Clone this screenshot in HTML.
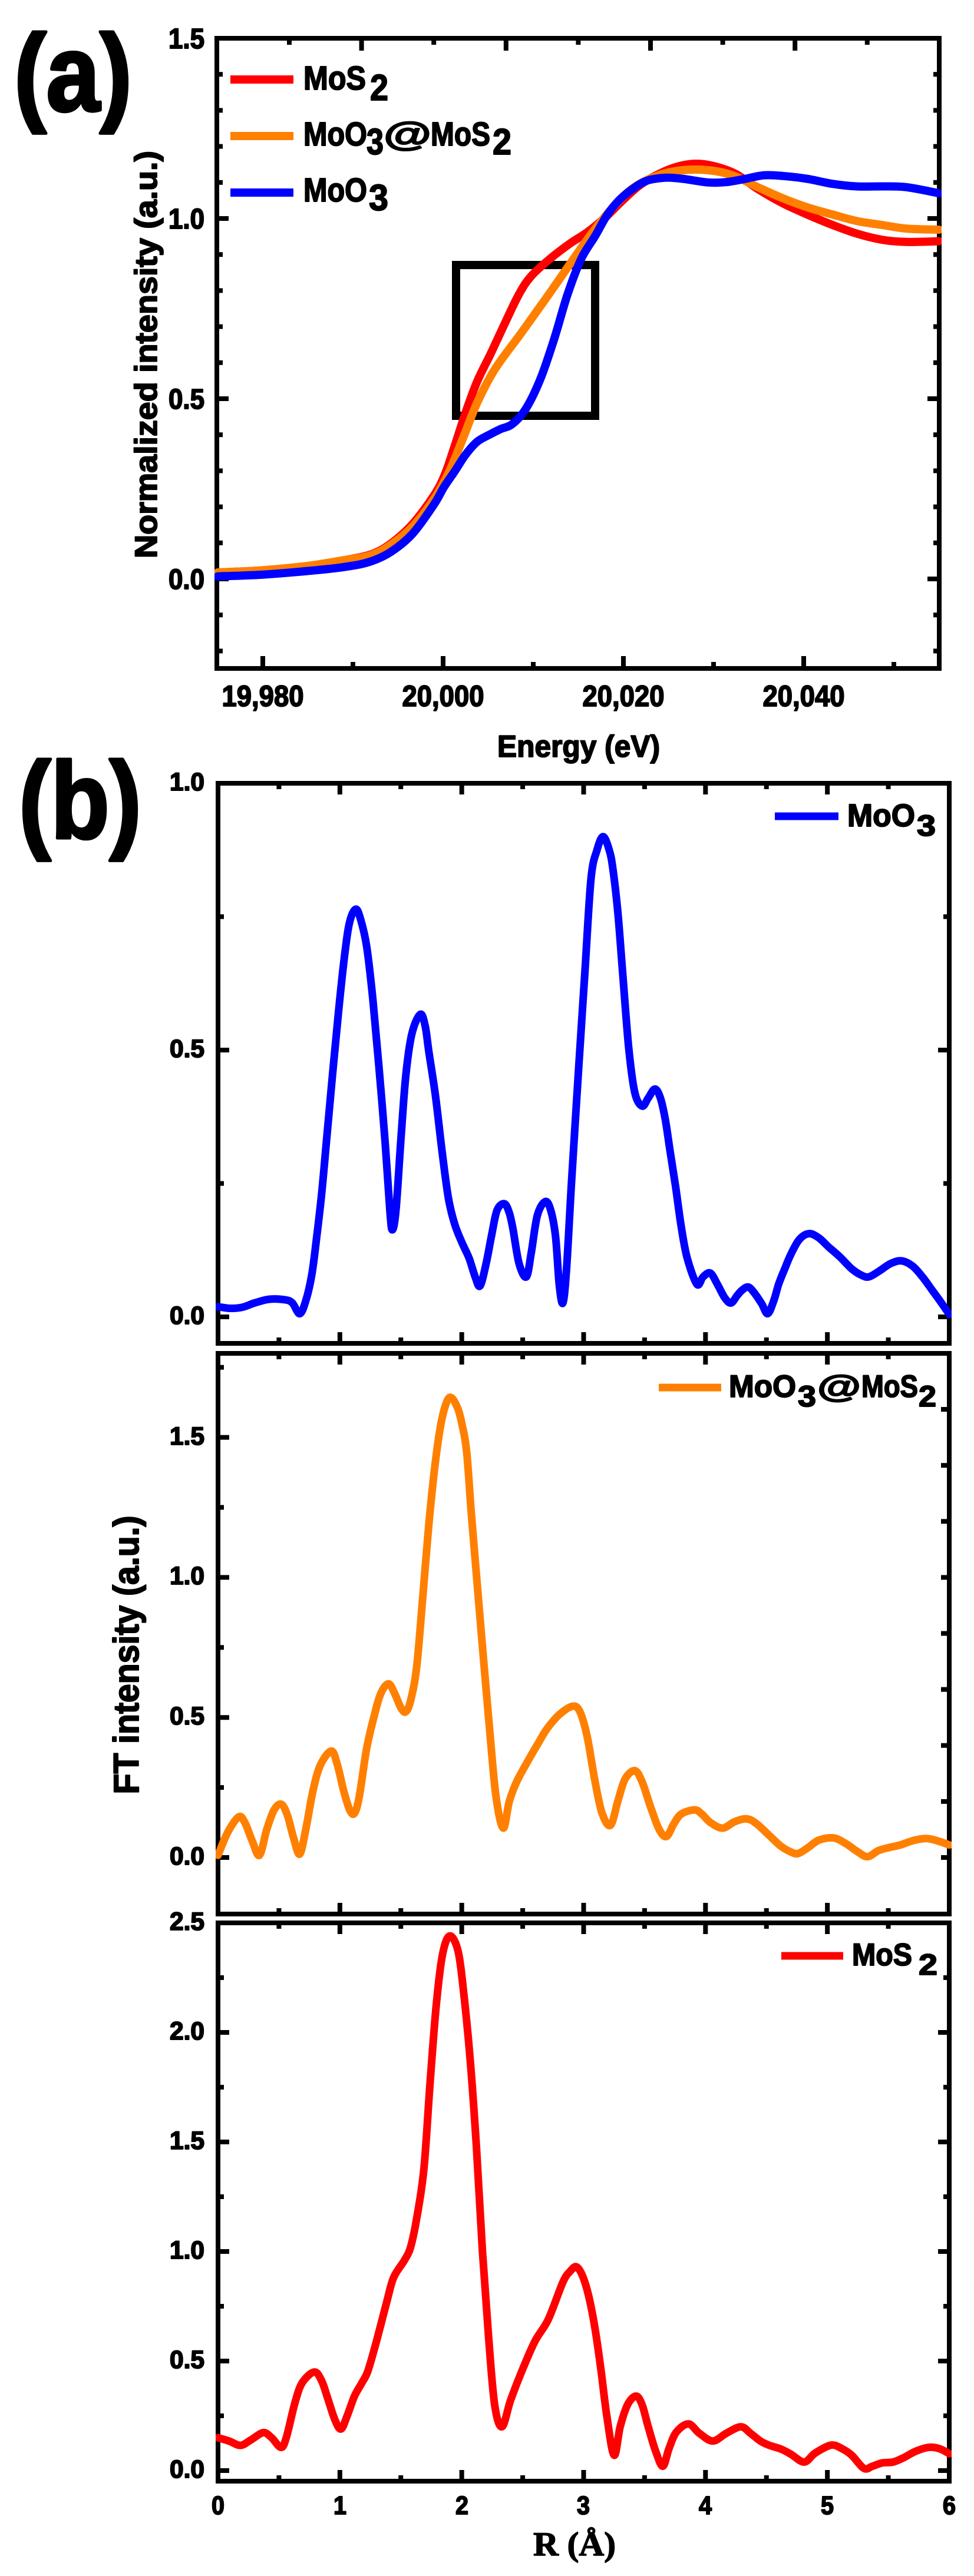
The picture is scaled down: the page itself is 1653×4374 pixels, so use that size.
<!DOCTYPE html>
<html>
<head>
<meta charset="utf-8">
<style>
html,body{margin:0;padding:0;background:#fff}
svg{display:block}
text{font-family:"Liberation Sans",Arial,sans-serif;font-weight:bold;fill:#000;stroke:#000;stroke-width:2px;paint-order:stroke;stroke-linejoin:round}
.serif{font-family:"Liberation Serif","Times New Roman",serif;stroke-width:1.5px}
.big{stroke-width:5px}
</style>
</head>
<body>
<svg id="c" xmlns="http://www.w3.org/2000/svg" width="1653" height="4374" viewBox="0 0 1653 4374">
<rect width="1653" height="4374" fill="#fff"/>
<defs>
<clipPath id="ca"><rect x="364" y="61" width="1234" height="1078"/></clipPath>
<clipPath id="cb1"><rect x="366" y="1326" width="1249" height="959"/></clipPath>
<clipPath id="cb2"><rect x="366" y="2294" width="1249" height="960"/></clipPath>
<clipPath id="cb3"><rect x="366" y="3261" width="1249" height="956"/></clipPath>
</defs>

<!-- frames -->
<rect x="368" y="65" width="1226" height="1070" fill="none" stroke="#000" stroke-width="8"/>
<rect x="370" y="1330" width="1241" height="951" fill="none" stroke="#000" stroke-width="8"/>
<rect x="370" y="2298" width="1241" height="952" fill="none" stroke="#000" stroke-width="8"/>
<rect x="370" y="3265" width="1241" height="948" fill="none" stroke="#000" stroke-width="8"/>

<g id="ticks"></g>

<!-- zoom box in panel a -->
<rect x="774" y="450" width="236" height="256" fill="none" stroke="#000" stroke-width="14"/>

<g id="curves"></g>

<!-- panel labels -->
<text class="big" x="24" y="188" font-size="185" textLength="200" lengthAdjust="spacingAndGlyphs">(a)</text>
<text class="big" x="32" y="1423" font-size="185" textLength="208" lengthAdjust="spacingAndGlyphs">(b)</text>

<!-- panel a y tick labels -->
<g font-size="48" text-anchor="end">
<text x="347" y="1000" textLength="61" lengthAdjust="spacingAndGlyphs">0.0</text>
<text x="347" y="694" textLength="61" lengthAdjust="spacingAndGlyphs">0.5</text>
<text x="347" y="388" textLength="61" lengthAdjust="spacingAndGlyphs">1.0</text>
<text x="347" y="82" textLength="61" lengthAdjust="spacingAndGlyphs">1.5</text>
</g>
<!-- panel a x tick labels -->
<g font-size="50" text-anchor="middle">
<text x="446" y="1199" textLength="139" lengthAdjust="spacingAndGlyphs">19,980</text>
<text x="752" y="1199" textLength="139" lengthAdjust="spacingAndGlyphs">20,000</text>
<text x="1058" y="1199" textLength="139" lengthAdjust="spacingAndGlyphs">20,020</text>
<text x="1364" y="1199" textLength="139" lengthAdjust="spacingAndGlyphs">20,040</text>
</g>
<text x="982" y="1285" font-size="52" text-anchor="middle" textLength="276" lengthAdjust="spacingAndGlyphs">Energy (eV)</text>
<text transform="translate(266,602) rotate(-90)" x="0" y="0" font-size="53" text-anchor="middle" textLength="692" lengthAdjust="spacingAndGlyphs">Normalized intensity (a.u.)</text>

<!-- panel a legend -->
<line x1="391" y1="135" x2="498" y2="135" stroke="#FF0000" stroke-width="14"/>
<line x1="391" y1="231" x2="498" y2="231" stroke="#FF8000" stroke-width="14"/>
<line x1="391" y1="327" x2="498" y2="327" stroke="#0000FF" stroke-width="14"/>
<text x="515" y="152" font-size="57" textLength="106" lengthAdjust="spacingAndGlyphs">MoS</text>
<text x="628" y="170" font-size="62" textLength="31" lengthAdjust="spacingAndGlyphs">2</text>
<text x="515" y="247" font-size="57" textLength="108" lengthAdjust="spacingAndGlyphs">MoO</text>
<text x="622" y="262" font-size="62" textLength="29" lengthAdjust="spacingAndGlyphs">3</text>
<text x="651" y="247" font-size="57" textLength="81" lengthAdjust="spacingAndGlyphs">@</text>
<text x="731" y="247" font-size="57" textLength="101" lengthAdjust="spacingAndGlyphs">MoS</text>
<text x="836" y="262" font-size="62" textLength="32" lengthAdjust="spacingAndGlyphs">2</text>
<text x="515" y="342" font-size="57" textLength="108" lengthAdjust="spacingAndGlyphs">MoO</text>
<text x="626" y="357" font-size="62" textLength="33" lengthAdjust="spacingAndGlyphs">3</text>

<!-- panel b tick labels -->
<g font-size="43" text-anchor="end">
<text x="347" y="2248" textLength="59" lengthAdjust="spacingAndGlyphs">0.0</text>
<text x="347" y="1795" textLength="59" lengthAdjust="spacingAndGlyphs">0.5</text>
<text x="347" y="1342" textLength="59" lengthAdjust="spacingAndGlyphs">1.0</text>

<text x="347" y="3166" textLength="59" lengthAdjust="spacingAndGlyphs">0.0</text>
<text x="347" y="2928" textLength="59" lengthAdjust="spacingAndGlyphs">0.5</text>
<text x="347" y="2690" textLength="59" lengthAdjust="spacingAndGlyphs">1.0</text>
<text x="347" y="2453" textLength="59" lengthAdjust="spacingAndGlyphs">1.5</text>

<text x="347" y="4207" textLength="59" lengthAdjust="spacingAndGlyphs">0.0</text>
<text x="347" y="4021" textLength="59" lengthAdjust="spacingAndGlyphs">0.5</text>
<text x="347" y="3835" textLength="59" lengthAdjust="spacingAndGlyphs">1.0</text>
<text x="347" y="3649" textLength="59" lengthAdjust="spacingAndGlyphs">1.5</text>
<text x="347" y="3463" textLength="59" lengthAdjust="spacingAndGlyphs">2.0</text>
<text x="347" y="3277" textLength="59" lengthAdjust="spacingAndGlyphs">2.5</text>
</g>
<g font-size="44" text-anchor="middle">
<text x="370" y="4269" textLength="22" lengthAdjust="spacingAndGlyphs">0</text>
<text x="577" y="4269" textLength="22" lengthAdjust="spacingAndGlyphs">1</text>
<text x="784" y="4269" textLength="22" lengthAdjust="spacingAndGlyphs">2</text>
<text x="990" y="4269" textLength="22" lengthAdjust="spacingAndGlyphs">3</text>
<text x="1197" y="4269" textLength="22" lengthAdjust="spacingAndGlyphs">4</text>
<text x="1404" y="4269" textLength="22" lengthAdjust="spacingAndGlyphs">5</text>
<text x="1611" y="4269" textLength="22" lengthAdjust="spacingAndGlyphs">6</text>
</g>
<text class="serif" x="975" y="4339" font-size="57" text-anchor="middle" textLength="140" lengthAdjust="spacingAndGlyphs">R (Å)</text>
<text transform="translate(235,2810) rotate(-90)" x="0" y="0" font-size="60" text-anchor="middle" textLength="473" lengthAdjust="spacingAndGlyphs">FT intensity (a.u.)</text>

<!-- panel b legends -->
<line x1="1315" y1="1386" x2="1423" y2="1386" stroke="#0000FF" stroke-width="13"/>
<text x="1438" y="1403" font-size="54" textLength="115" lengthAdjust="spacingAndGlyphs">MoO</text>
<text x="1556" y="1419" font-size="50" textLength="32" lengthAdjust="spacingAndGlyphs">3</text>

<line x1="1118" y1="2356" x2="1224" y2="2356" stroke="#FF8000" stroke-width="13"/>
<text x="1237" y="2372" font-size="53" textLength="114" lengthAdjust="spacingAndGlyphs">MoO</text>
<text x="1354" y="2388" font-size="50" textLength="31" lengthAdjust="spacingAndGlyphs">3</text>
<text x="1387" y="2372" font-size="53" textLength="74" lengthAdjust="spacingAndGlyphs">@</text>
<text x="1462" y="2372" font-size="53" textLength="96" lengthAdjust="spacingAndGlyphs">MoS</text>
<text x="1559" y="2388" font-size="50" textLength="30" lengthAdjust="spacingAndGlyphs">2</text>

<line x1="1326" y1="3321" x2="1431" y2="3321" stroke="#FF0000" stroke-width="13"/>
<text x="1446" y="3337" font-size="53" textLength="102" lengthAdjust="spacingAndGlyphs">MoS</text>
<text x="1559" y="3353" font-size="50" textLength="32" lengthAdjust="spacingAndGlyphs">2</text>
</svg>

<script>
(function(){
var NS='http://www.w3.org/2000/svg';
var T=document.getElementById('ticks'), C=document.getElementById('curves');
function el(tag,a,p){var e=document.createElementNS(NS,tag);for(var k in a)e.setAttribute(k,a[k]);p.appendChild(e);return e;}
function ln(x1,y1,x2,y2,w){el('line',{x1:x1,y1:y1,x2:x2,y2:y2,stroke:'#000','stroke-width':w||8},T);}

/* ---------- panel a ticks ---------- */
var ax=function(E){return 446+(E-19980)*15.3;}, ay=function(v){return 983-v*612;};
for(var E=19980;E<=20050;E+=10){var mj=((E-19980)%20===0);var x=ax(E);ln(x,1135,x,1135-(mj?21:11));}
for(var k=0;k<=8;k++){var x=491+k*122.6;var mj=(k%2===1);ln(x,65,x,65+(mj?21:11));}
for(var i=-2;i<=14;i++){var y=ay(i/10);var mj=(i%5===0);ln(368,y,368+(mj?20:10),y);ln(1594,y,1594-(mj?20:10),y);}

/* ---------- panel b ticks ---------- */
var bx=function(R){return 370+R*206.83;};
var P=[{t:1330,b:2281,z:2236,s:906,lo:-0.05,hi:1.0,rt:0},
       {t:2298,b:3250,z:3154,s:475.6,lo:-0.2,hi:1.8,rt:1},
       {t:3265,b:4213,z:4195,s:372,lo:-0.05,hi:2.5,rt:0}];
P.forEach(function(p){
  for(var j=1;j<=11;j++){var x=bx(j/2);var mj=(j%2===0);ln(x,p.b,x,p.b-(mj?19:10));ln(x,p.t,x,p.t+(mj?19:10));}
  for(var i=Math.ceil(p.lo/0.25);i<=Math.floor(p.hi/0.25);i++){
    var y=p.z-i*0.25*p.s; if(Math.abs(y-p.t)<4||Math.abs(y-p.b)<4)continue;
    var mj=(i%2===0); ln(370,y,370+(mj?19:10),y);
    if(!p.rt) ln(1611,y,1611-(mj?19:10),y);
  }
  if(p.rt){for(var k=0;k<=8;k++){var y=p.z-k*0.2*p.s;ln(1611,y,1611-14,y);}}
});

/* ---------- curves ---------- */
function cr(pts,fx,fy){
  var Q=pts.map(function(p){return [fx(p[0]),fy(p[1])];});
  var d='M'+Q[0][0].toFixed(1)+','+Q[0][1].toFixed(1);
  for(var i=0;i<Q.length-1;i++){
    var p0=Q[i>0?i-1:0],p1=Q[i],p2=Q[i+1],p3=Q[i+2<Q.length?i+2:i+1];
    var c1x=p1[0]+(p2[0]-p0[0])/6,c1y=p1[1]+(p2[1]-p0[1])/6;
    var c2x=p2[0]-(p3[0]-p1[0])/6,c2y=p2[1]-(p3[1]-p1[1])/6;
    d+=' C'+c1x.toFixed(1)+','+c1y.toFixed(1)+' '+c2x.toFixed(1)+','+c2y.toFixed(1)+' '+p2[0].toFixed(1)+','+p2[1].toFixed(1);
  }
  return d;
}
function draw(pts,fx,fy,col,clip,w){
  el('path',{d:cr(pts,fx,fy),fill:'none',stroke:col,'stroke-width':w,'stroke-linejoin':'round','stroke-linecap':'round','clip-path':'url(#'+clip+')'},C);
}

var red=[[19975,0.018],[19980,0.024],[19985,0.036],[19989,0.052],[19992,0.068],[19994.2,0.098],[19996.6,0.152],[19999,0.232],[20000.2,0.29],[20001.3,0.37],[20002.5,0.462],[20003.8,0.549],[20005.3,0.626],[20006.9,0.712],[20008.4,0.789],[20009.7,0.838],[20011.8,0.887],[20014.1,0.931],[20016,0.962],[20018,1.003],[20019.7,1.045],[20021.8,1.092],[20023.9,1.123],[20026,1.144],[20028,1.152],[20030.1,1.145],[20032.5,1.123],[20034.9,1.082],[20037.7,1.042],[20040.4,1.011],[20043.2,0.982],[20045.9,0.958],[20048.7,0.941],[20051.4,0.935],[20055,0.937]];
var orange=[[19975,0.018],[19980,0.024],[19985,0.036],[19989,0.052],[19992,0.066],[19994.2,0.095],[19996.6,0.145],[19999,0.222],[20000.7,0.299],[20002.2,0.39],[20003.8,0.49],[20005.75,0.582],[20008.6,0.68],[20011.4,0.778],[20014.0,0.871],[20016.0,0.942],[20017.3,0.985],[20019.0,1.035],[20021.1,1.085],[20023.9,1.12],[20026.6,1.134],[20029.4,1.134],[20032.1,1.12],[20034.9,1.087],[20037.7,1.056],[20040.4,1.031],[20043.2,1.011],[20045.9,0.993],[20048.7,0.982],[20051.4,0.972],[20055,0.969]];
var blue=[[19975,0.007],[19980,0.012],[19985,0.022],[19989,0.033],[19991.8,0.047],[19994.2,0.075],[19996.6,0.125],[19999,0.207],[20000.1,0.255],[20001.3,0.299],[20002.5,0.345],[20003.8,0.381],[20005.2,0.401],[20006.4,0.416],[20007.7,0.43],[20009.2,0.473],[20010.8,0.555],[20012.3,0.664],[20013.8,0.789],[20015.3,0.887],[20016.9,0.953],[20018.2,1.01],[20019.5,1.05],[20020.8,1.078],[20022.5,1.104],[20024.6,1.113],[20026.6,1.11],[20029.4,1.1],[20031.4,1.101],[20033.5,1.11],[20035.6,1.12],[20037.7,1.118],[20040.4,1.11],[20043.2,1.096],[20045.9,1.089],[20048.7,1.089],[20051.4,1.087],[20055,1.07]];
draw(red,ax,ay,'#FF0000','ca',14);
draw(orange,ax,ay,'#FF8000','ca',14);
draw(blue,ax,ay,'#0000FF','ca',14);

var b1=[[0,0.019],[0.1,0.016],[0.2,0.018],[0.3,0.026],[0.42,0.033],[0.55,0.032],[0.61,0.026],[0.67,0.006],[0.72,0.03],[0.77,0.08],[0.81,0.15],[0.85,0.23],[0.89,0.33],[0.94,0.455],[0.99,0.575],[1.04,0.68],[1.08,0.74],[1.13,0.764],[1.17,0.745],[1.22,0.694],[1.27,0.596],[1.32,0.47],[1.37,0.33],[1.41,0.2],[1.43,0.163],[1.46,0.2],[1.5,0.33],[1.54,0.45],[1.59,0.53],[1.66,0.567],[1.7,0.545],[1.73,0.497],[1.785,0.413],[1.84,0.307],[1.89,0.223],[1.94,0.175],[2.0,0.14],[2.06,0.11],[2.11,0.075],[2.15,0.058],[2.2,0.1],[2.245,0.153],[2.29,0.2],[2.35,0.212],[2.39,0.195],[2.42,0.165],[2.47,0.1],[2.53,0.075],[2.57,0.12],[2.62,0.19],[2.685,0.216],[2.73,0.2],[2.77,0.15],[2.8,0.06],[2.83,0.026],[2.86,0.09],[2.9,0.25],[2.96,0.469],[3.01,0.645],[3.06,0.82],[3.11,0.875],[3.16,0.9],[3.21,0.875],[3.24,0.84],[3.28,0.76],[3.32,0.645],[3.37,0.504],[3.42,0.42],[3.48,0.395],[3.53,0.41],[3.585,0.427],[3.63,0.41],[3.67,0.37],[3.71,0.31],[3.755,0.244],[3.8,0.17],[3.85,0.11],[3.93,0.061],[3.98,0.075],[4.04,0.082],[4.1,0.06],[4.16,0.035],[4.21,0.026],[4.26,0.04],[4.3,0.05],[4.35,0.056],[4.4,0.045],[4.46,0.025],[4.51,0.006],[4.56,0.03],[4.6,0.061],[4.65,0.09],[4.7,0.117],[4.77,0.145],[4.85,0.156],[4.93,0.148],[5.01,0.131],[5.1,0.113],[5.2,0.09],[5.28,0.078],[5.34,0.075],[5.42,0.085],[5.52,0.1],[5.61,0.105],[5.7,0.095],[5.78,0.075],[5.86,0.05],[5.93,0.028],[6.0,0.005]];
draw(b1,bx,function(v){return 2236-v*906;},'#0000FF','cb1',13);

var b2=[[0,0.008],[0.08,0.09],[0.17,0.145],[0.22,0.125],[0.28,0.06],[0.34,0.008],[0.4,0.1],[0.46,0.17],[0.52,0.19],[0.57,0.15],[0.62,0.07],[0.67,0.012],[0.72,0.1],[0.78,0.24],[0.84,0.33],[0.93,0.38],[0.98,0.33],[1.03,0.24],[1.08,0.17],[1.12,0.158],[1.16,0.22],[1.22,0.39],[1.29,0.52],[1.34,0.59],[1.4,0.62],[1.45,0.585],[1.5,0.535],[1.54,0.52],[1.58,0.56],[1.63,0.68],[1.68,0.93],[1.73,1.19],[1.78,1.4],[1.83,1.55],[1.88,1.63],[1.92,1.64],[1.97,1.6],[2.0,1.55],[2.04,1.45],[2.08,1.22],[2.13,0.96],[2.18,0.7],[2.23,0.45],[2.28,0.22],[2.34,0.105],[2.39,0.2],[2.45,0.27],[2.55,0.35],[2.63,0.41],[2.7,0.46],[2.8,0.51],[2.91,0.54],[2.97,0.52],[3.03,0.43],[3.09,0.28],[3.15,0.16],[3.22,0.115],[3.28,0.2],[3.34,0.28],[3.42,0.31],[3.48,0.27],[3.55,0.18],[3.62,0.1],[3.68,0.075],[3.74,0.12],[3.8,0.155],[3.91,0.17],[3.97,0.155],[4.04,0.125],[4.14,0.105],[4.24,0.128],[4.34,0.138],[4.42,0.12],[4.52,0.08],[4.62,0.04],[4.7,0.02],[4.76,0.014],[4.84,0.035],[4.93,0.062],[5.05,0.07],[5.15,0.05],[5.25,0.02],[5.33,0.003],[5.42,0.025],[5.5,0.035],[5.6,0.045],[5.7,0.06],[5.81,0.068],[5.9,0.06],[6.0,0.045]];
draw(b2,bx,function(v){return 3154-v*475.6;},'#FF8000','cb2',13);

var b3=[[0,0.15],[0.09,0.135],[0.185,0.115],[0.27,0.14],[0.371,0.173],[0.44,0.15],[0.516,0.106],[0.56,0.15],[0.63,0.307],[0.69,0.4],[0.79,0.45],[0.85,0.41],[0.9,0.33],[0.96,0.23],[1.01,0.19],[1.06,0.25],[1.12,0.34],[1.18,0.4],[1.23,0.455],[1.3,0.59],[1.38,0.76],[1.44,0.88],[1.53,0.96],[1.58,1.02],[1.63,1.15],[1.69,1.38],[1.74,1.77],[1.79,2.12],[1.84,2.35],[1.9,2.44],[1.97,2.37],[2.02,2.16],[2.07,1.87],[2.12,1.48],[2.17,1.0],[2.22,0.61],[2.27,0.3],[2.33,0.2],[2.4,0.32],[2.49,0.45],[2.6,0.59],[2.71,0.69],[2.83,0.86],[2.89,0.91],[2.94,0.93],[2.99,0.89],[3.04,0.8],[3.09,0.66],[3.14,0.47],[3.19,0.25],[3.25,0.07],[3.3,0.2],[3.36,0.3],[3.43,0.34],[3.48,0.3],[3.53,0.2],[3.59,0.09],[3.65,0.02],[3.7,0.1],[3.76,0.175],[3.86,0.213],[3.95,0.17],[4.06,0.135],[4.17,0.17],[4.29,0.2],[4.37,0.17],[4.45,0.135],[4.52,0.116],[4.62,0.098],[4.7,0.075],[4.81,0.039],[4.9,0.08],[5.03,0.116],[5.12,0.1],[5.2,0.07],[5.3,0.01],[5.37,0.02],[5.45,0.035],[5.54,0.039],[5.63,0.06],[5.72,0.087],[5.83,0.106],[5.92,0.1],[6.0,0.077]];
draw(b3,bx,function(v){return 4195-v*372;},'#FF0000','cb3',13);
})();
</script>
</body>
</html>
